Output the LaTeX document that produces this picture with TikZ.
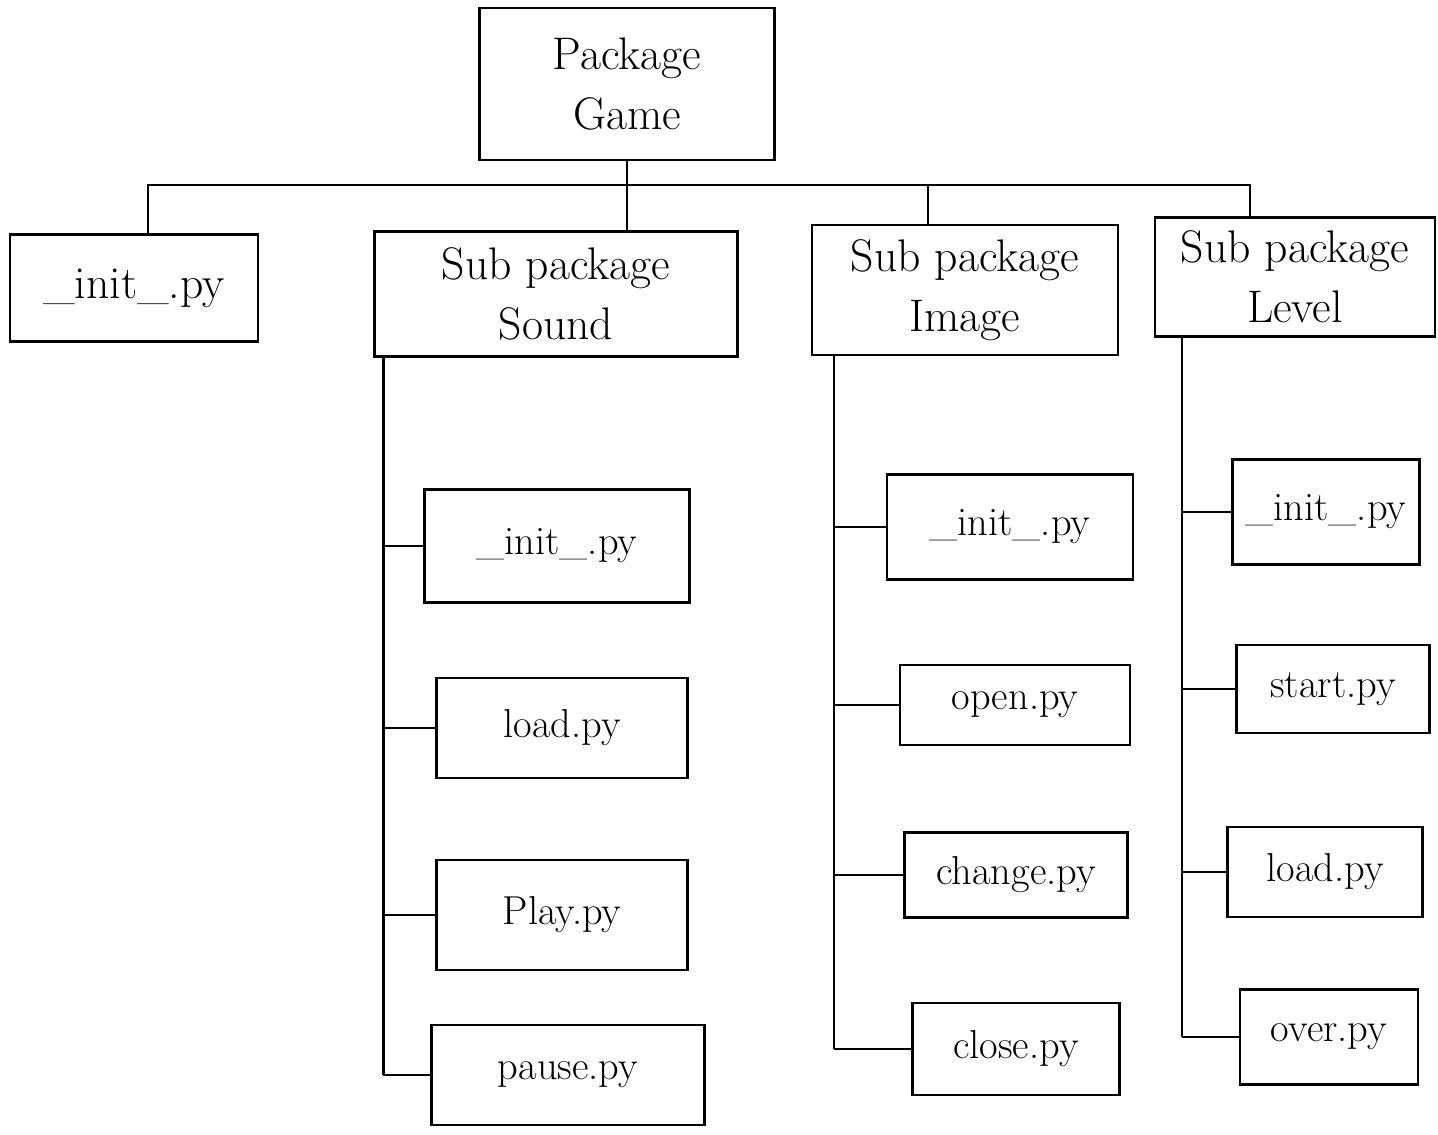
\documentclass[tikz,border=0pt]{standalone}
\usepackage{tikz}
\usetikzlibrary{positioning,calc}

\begin{document}
\begin{tikzpicture}[x=0.02cm,y=-0.02cm,
    box/.style={draw,line width=1.3pt,align=center,inner sep=2pt,
      font=\fontsize{26}{34}\selectfont},
    leaf/.style={box,font=\fontsize{23}{30}\selectfont},
    wire/.style={line width=1.3pt}]
  \useasboundingbox (0,0) rectangle (1438,1134);
  % root package and its sub packages
  \node[box,minimum width=5.9cm,minimum height=3.04cm] (game) at (627,84) {Package\\Game};
  \node[box,minimum width=4.96cm,minimum height=2.14cm] (init) at (134,288) {\_init\_.py};
  \node[box,minimum width=7.26cm,minimum height=2.5cm] (sound) at (556,294) {Sub package\\Sound};
  \node[box,minimum width=6.12cm,minimum height=2.6cm] (image) at (965,290) {Sub package\\Image};
  \node[box,minimum width=5.6cm,minimum height=2.38cm] (level) at (1295,277) {Sub package\\Level};
  % modules of each sub package
  \foreach \n/\x/\y/\w/\h/\t in {
      sinit/557/546/5.3/2.26/\_init\_.py, sload/562/728/5.02/2.0/load.py,
      splay/562/915/5.02/2.2/Play.py, spause/568/1075/5.46/2.0/pause.py,
      iinit/1010/527/4.92/2.1/\_init\_.py, iopen/1015/705/4.6/1.6/open.py,
      ichange/1016/875/4.46/1.7/change.py, iclose/1016/1049/4.14/1.84/close.py,
      linit/1326/512/3.74/2.1/\_init\_.py, lstart/1333/689/3.86/1.76/start.py,
      lload/1325/872/3.9/1.8/load.py, lover/1329/1037/3.56/1.9/over.py}{
    \node[leaf,minimum width=\w cm,minimum height=\h cm] (\n) at (\x,\y) {\t};
  }
  % bus below the root
  \coordinate (bus) at (627,185);
  \coordinate (itop) at ($(image.north)+(-37,0)$);
  \coordinate (stop) at (sound.north -| game.south);
  \draw[wire] (game.south) -- (bus);
  \draw[wire] ($(init.north)+(14,0)$) |- (bus) -| ($(level.north)+(-45,0)$);
  \draw[wire] (stop) -- (stop |- bus);
  \draw[wire] (itop) -- (itop |- bus);
  % spines down to the modules
  \coordinate (sspine) at ($(sound.south west)+(10,0)$);
  \coordinate (ispine) at ($(image.south west)+(23,0)$);
  \coordinate (lspine) at ($(level.south west)+(28,0)$);
  \draw[wire] (sspine) -- (sspine |- spause.west);
  \draw[wire] (ispine) -- (ispine |- iclose.west);
  \draw[wire] (lspine) -- (lspine |- lover.west);
  \foreach \n in {sinit,sload,splay,spause}
    \draw[wire] (sspine |- \n.west) -- (\n.west);
  \foreach \n in {iinit,iopen,ichange,iclose}
    \draw[wire] (ispine |- \n.west) -- (\n.west);
  \foreach \n in {linit,lstart,lload,lover}
    \draw[wire] (lspine |- \n.west) -- (\n.west);
\end{tikzpicture}
\end{document}
